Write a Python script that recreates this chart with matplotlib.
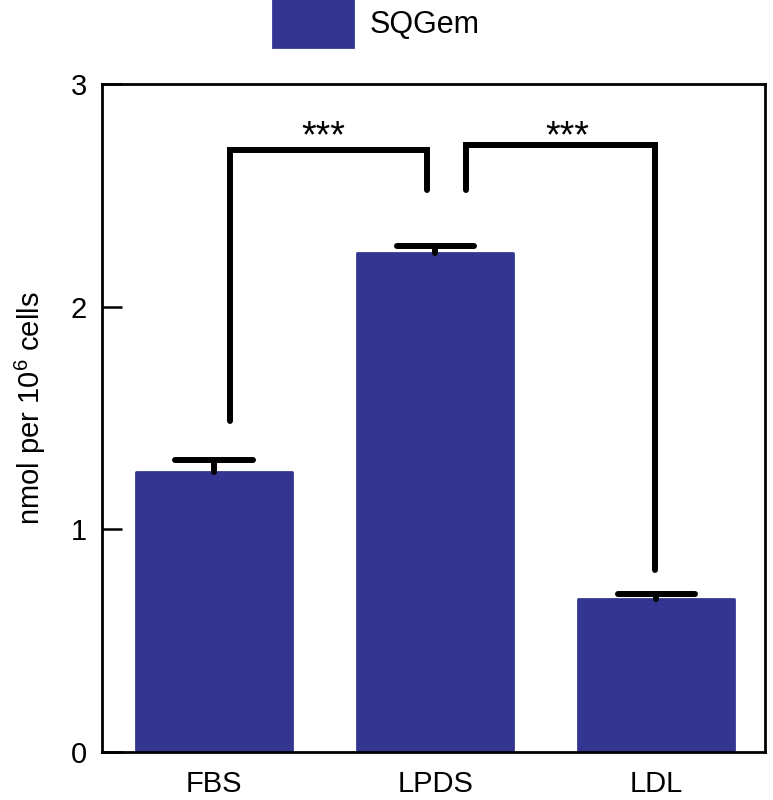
import matplotlib
matplotlib.use('Agg')
import matplotlib.pyplot as plt
import numpy as np
from matplotlib.patches import Patch

plt.rcParams['font.family'] = ['Liberation Sans', 'DejaVu Sans']
plt.rcParams['mathtext.fontset'] = 'custom'
plt.rcParams['mathtext.rm'] = 'Liberation Sans'
plt.rcParams['mathtext.default'] = 'regular'

# data
groups = ['FBS', 'LPDS', 'LDL']
values = [1.258, 2.241, 0.687]
errors = [0.053, 0.031, 0.023]
series_name = 'SQGem'

# significance brackets: (x_left, x_right), (y_left_end, y_right_end), y_top
bracket_x = [(0.07, 0.964), (1.14, 1.995)]
bracket_ends = [(1.487, 2.524), (2.524, 0.817)]
bracket_tops = [2.704, 2.726]
bracket_labels = ['***', '***']
star_x = [0.493, 1.597]
star_y = [2.715, 2.715]

bar_color = '#333590'
fs = 21

fig = plt.figure(figsize=(7.73, 8), dpi=100)
ax = fig.add_axes([0.132, 0.06, 0.858, 0.835])

x = np.arange(len(groups))
vals = np.array(values)
tops = vals + np.array(errors)
ax.bar(x, vals, width=0.705, color=bar_color, edgecolor=bar_color,
       linewidth=2, joinstyle='round', zorder=2)
# upper error bars only
ax.vlines(x, vals, tops, color='black', lw=4.3, capstyle='round', zorder=3)
ax.hlines(tops, x - 0.175, x + 0.175, color='black', lw=4.3,
          capstyle='round', zorder=3)

for (xl, xr), (yl, yr), yt in zip(bracket_x, bracket_ends, bracket_tops):
    ax.plot([xl, xl, xr, xr], [yl, yt, yt, yr], color='black', lw=4.3,
            solid_capstyle='round', solid_joinstyle='miter', zorder=4)
for sx, sy, lab in zip(star_x, star_y, bracket_labels):
    ax.text(sx, sy, lab, ha='center', va='baseline', fontsize=27, zorder=5)

ax.set_xlim(-0.507, 2.493)
ax.set_ylim(0, 3)
ax.set_yticks([0, 1, 2, 3])
ax.set_xticks(x)
ax.set_xticklabels(groups)
ax.tick_params(axis='both', direction='in', length=14.5, width=1.8,
               labelsize=fs)
ax.tick_params(axis='y', pad=11)
ax.tick_params(axis='x', pad=13)
for s in ax.spines.values():
    s.set_linewidth(2)

ax.set_ylabel(r'nmol per 10$^{6}$ cells', fontsize=fs, va='center')
ax.yaxis.set_label_coords(-0.108, 0.515)

handle = Patch(facecolor=bar_color, edgecolor=bar_color, joinstyle='round',
               linewidth=2)
fig.legend([handle], [series_name], loc='center', bbox_to_anchor=(0.487, 0.971),
           frameon=False, fontsize=22, handlelength=2.6, handleheight=2.0,
           handletextpad=0.55, borderpad=0.1)

fig.savefig('out.png', dpi=100)
